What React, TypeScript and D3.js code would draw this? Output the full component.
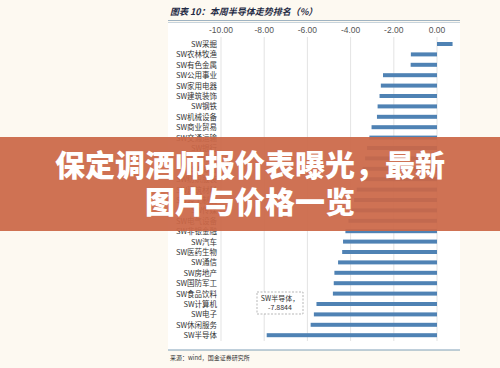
import React from "react";
import * as d3 from "d3";

const industries = [
  "SW采掘", "SW农林牧渔", "SW有色金属", "SW公用事业", "SW家用电器", "SW建筑装饰",
  "SW钢铁", "SW机械设备", "SW商业贸易", "SW交通运输", "SW银行", "SW化工",
  "SW综合", "SW纺织服装", "SW建筑材料", "SW轻工制造", "SW传媒", "SW电气设备",
  "SW非银金融", "SW汽车", "SW医药生物", "SW通信", "SW房地产", "SW国防军工",
  "SW食品饮料", "SW计算机", "SW电子", "SW休闲服务", "SW半导体",
];
const changes = [
  0.72, -1.21, -1.22, -2.5, -2.6, -2.66,
  -2.75, -2.78, -3.03, -3.13, -3.24, -3.33,
  -3.45, -3.56, -3.72, -3.84, -3.95, -4.1,
  -4.24, -4.35, -4.39, -4.58, -4.75, -4.78,
  -4.82, -5.58, -5.7, -5.85, -7.8844,
];
const tickValues = [-10, -8, -6, -4, -2, 0];
const chartTitle = "图表 10：本周半导体走势排名（%）";
const sourceText = "来源：wind，国金证券研究所";
const annotationLines = ["SW半导体，", "-7.8844"];
const overlayLines = ["保定调酒师报价表曝光，最新", "图片与价格一览"];

const W = 500;
const H = 368;
const CJK = "'Noto Sans CJK SC', 'Noto Sans', sans-serif";

export default function App() {
  const x = d3.scaleLinear().domain([-10, 1]).range([221, 458.6]);
  const y = d3
    .scaleBand<string>()
    .domain(industries)
    .range([38.8, 340.4])
    .padding(0);
  const bw = y.bandwidth();
  const barH = 4;
  const annIdx = industries.length - 1;
  const annY = (y(industries[annIdx]) as number) - 38;

  return (
    <svg
      width={W}
      height={H}
      style={{ position: "absolute", left: 0, top: 0, display: "block" }}
    >
      <rect x={0} y={0} width={W} height={H} fill="#fdf9f1" />
      {/* chart panel */}
      <rect x={168} y={22} width={292} height={328} fill="#ffffff" />
      <text
        x={170}
        y={15}
        fontFamily={CJK}
        fontSize={9}
        fontWeight={700}
        fontStyle="italic"
        fill="#1f2a44"
      >
        {chartTitle}
      </text>
      <line x1={168} x2={460} y1={20.5} y2={20.5} stroke="#9fb3c2" strokeWidth={1} />
      <line x1={168} x2={460} y1={22.5} y2={22.5} stroke="#c8d4dc" strokeWidth={1} />

      {/* gridlines and ticks */}
      {tickValues.map((t) => (
        <g key={t}>
          <line
            x1={x(t)}
            x2={x(t)}
            y1={37}
            y2={341}
            stroke="#dcdcdc"
            strokeWidth={0.8}
          />
          <text
            x={x(t)}
            y={33}
            textAnchor="middle"
            fontFamily="'Liberation Sans', Arial, sans-serif"
            fontSize={8.5}
            fill="#555"
          >
            {t.toFixed(2)}
          </text>
        </g>
      ))}

      {/* bars */}
      {industries.map((name, i) => {
        const v = changes[i];
        const cy = (y(name) as number) + bw / 2;
        return (
          <g key={name}>
            <rect
              x={Math.min(x(v), x(0))}
              y={cy - barH / 2}
              width={Math.abs(x(v) - x(0))}
              height={barH}
              fill="#4f82b4"
            />
            <text
              x={217}
              y={cy + 3}
              textAnchor="end"
              fontFamily={CJK}
              fontSize={7.5}
              fill="#333"
            >
              {name}
            </text>
          </g>
        );
      })}

      {/* annotation */}
      <rect
        x={257}
        y={annY}
        width={46}
        height={22}
        fill="#fff"
        stroke="#999"
        strokeWidth={0.7}
        strokeDasharray="2,1.5"
      />
      {annotationLines.map((l, i) => (
        <text
          key={l}
          x={280}
          y={annY + 9 + i * 9}
          textAnchor="middle"
          fontFamily={CJK}
          fontSize={7}
          fill="#333"
        >
          {l}
        </text>
      ))}

      {/* bottom line and source */}
      <line x1={168} x2={460} y1={350} y2={350} stroke="#7f9fb6" strokeWidth={1} />
      <text x={170} y={360} fontFamily={CJK} fontSize={6} fill="#333">
        {sourceText}
      </text>

      {/* overlay banner */}
      <rect x={0} y={137} width={W} height={94} fill="#cb6747" opacity={0.93} />
      {overlayLines.map((l, i) => (
        <text
          key={l}
          x={250}
          y={176 + i * 37}
          textAnchor="middle"
          fontFamily={CJK}
          fontSize={30}
          fontWeight={900}
          fill="#ffffff"
        >
          {l}
        </text>
      ))}
    </svg>
  );
}
